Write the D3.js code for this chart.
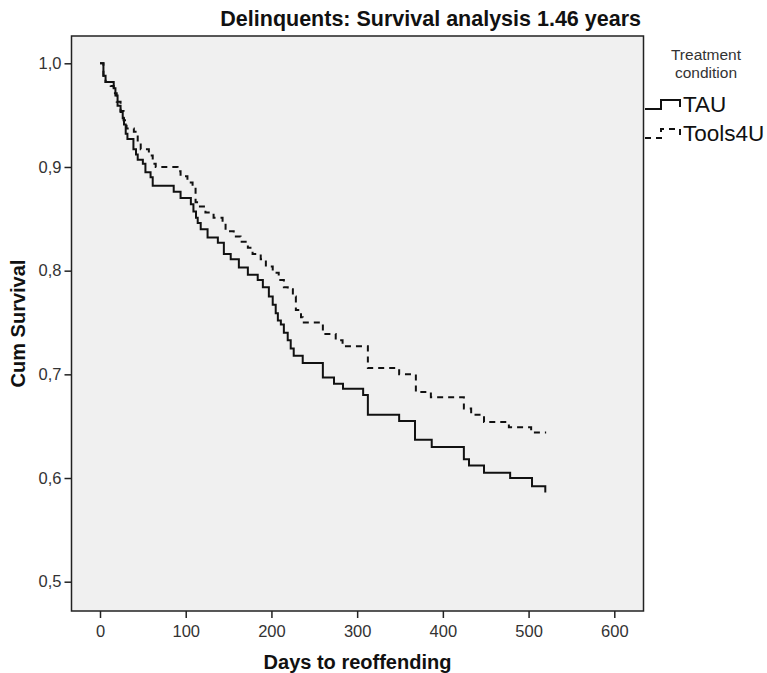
<!DOCTYPE html>
<html>
<head>
<meta charset="utf-8">
<script src="https://cdn.jsdelivr.net/npm/d3@7"></script>
<style>
  html, body { margin: 0; padding: 0; background: #ffffff; }
  svg { display: block; }
  text { font-family: "Liberation Sans", Arial, sans-serif; }
</style>
</head>
<body>
<svg id="chart" width="767" height="673"></svg>
<script>
// ---- Data ----
const chartTitle = "Delinquents: Survival analysis 1.46 years";
const xLabel = "Days to reoffending";
const yLabel = "Cum Survival";
const legendTitle = ["Treatment", "condition"];
const seriesNames = ["TAU", "Tools4U"];

const tauDays = [0, 4, 6.5, 16, 18, 20.5, 24, 26.5, 28, 30, 32, 39, 42, 44, 50, 53, 59, 61.5, 86, 94, 106, 109, 112, 114, 117.5, 125.5, 137.5, 144.5, 152.5, 162, 172.5, 184, 190, 197, 201.5, 205, 207.5, 211, 214.5, 219, 222.5, 226, 236.5, 260, 273, 283.5, 307, 312.5, 349, 367.5, 387, 424.5, 430.5, 448, 478.5, 504, 519.5];
const tauSurv = [1.000, 0.988, 0.982, 0.976, 0.969, 0.959, 0.953, 0.947, 0.941, 0.932, 0.927, 0.917, 0.912, 0.907, 0.903, 0.895, 0.890, 0.882, 0.876, 0.870, 0.864, 0.857, 0.851, 0.846, 0.840, 0.832, 0.827, 0.816, 0.811, 0.803, 0.796, 0.791, 0.784, 0.775, 0.767, 0.759, 0.752, 0.748, 0.740, 0.733, 0.725, 0.718, 0.711, 0.697, 0.691, 0.686, 0.680, 0.661, 0.655, 0.637, 0.630, 0.618, 0.612, 0.605, 0.600, 0.592, 0.586];

const toolsDays = [0, 4, 6.5, 12.5, 16, 19.5, 24, 27.5, 31, 39.5, 44, 47.5, 57, 61.5, 65, 90.5, 94, 102, 108, 111.5, 115, 123, 132.5, 143, 146.5, 156, 164, 172.5, 178, 187.5, 193.5, 201.5, 208.5, 214.5, 219, 225, 228.5, 234.5, 236.5, 260, 275, 283, 312.5, 349, 368.5, 386, 424.5, 433, 448, 477, 503, 520.5];
const toolsSurv = [1.000, 0.988, 0.982, 0.978, 0.971, 0.963, 0.954, 0.945, 0.937, 0.934, 0.924, 0.917, 0.911, 0.903, 0.900, 0.896, 0.891, 0.885, 0.881, 0.866, 0.862, 0.856, 0.851, 0.847, 0.838, 0.833, 0.828, 0.822, 0.816, 0.811, 0.804, 0.798, 0.791, 0.784, 0.782, 0.775, 0.762, 0.755, 0.750, 0.739, 0.733, 0.727, 0.706, 0.700, 0.683, 0.678, 0.667, 0.661, 0.654, 0.649, 0.644, 0.644];

const xTicks = [0, 100, 200, 300, 400, 500, 600];
const yTicks = [0.5, 0.6, 0.7, 0.8, 0.9, 1.0];

// ---- Layout ----
const frame = { left: 71.5, top: 36, right: 643.5, bottom: 611 };
const svg = d3.select("#chart");

const x = d3.scaleLinear().domain([0, 600]).range([100, 614.3]);
const y = d3.scaleLinear().domain([0.5, 1.0]).range([581.7, 63.3]);

// plot background
svg.append("rect")
  .attr("x", frame.left).attr("y", frame.top)
  .attr("width", frame.right - frame.left)
  .attr("height", frame.bottom - frame.top)
  .attr("fill", "#f0f0f0");

// Axes
const fmt = d => d3.format(".1f")(d).replace(".", ",");
const yAxis = svg.append("g")
  .attr("transform", `translate(${frame.left},0)`)
  .call(d3.axisLeft(y).tickValues(yTicks).tickFormat(fmt).tickSize(7).tickSizeOuter(0).tickPadding(3));
const xAxis = svg.append("g")
  .attr("transform", `translate(0,${frame.bottom})`)
  .call(d3.axisBottom(x).tickValues(xTicks).tickFormat(d3.format("d")).tickSize(7).tickSizeOuter(0).tickPadding(7));
[yAxis, xAxis].forEach(g => {
  g.select(".domain").remove();
  g.selectAll(".tick line").attr("stroke", "#222").attr("stroke-width", 1.5);
  g.selectAll(".tick text").attr("fill", "#333").style("font-size", "16.5px")
    .style("font-family", "'Liberation Sans', Arial, sans-serif");
});

// frame
svg.append("rect")
  .attr("x", frame.left).attr("y", frame.top)
  .attr("width", frame.right - frame.left)
  .attr("height", frame.bottom - frame.top)
  .attr("fill", "none").attr("stroke", "#222").attr("stroke-width", 1.5);

// Lines
const line = d3.line().curve(d3.curveStepAfter).x(d => x(d[0])).y(d => y(d[1]));
const tauData = tauDays.map((d, i) => [d, tauSurv[i]]);
const toolsData = toolsDays.map((d, i) => [d, toolsSurv[i]]);

svg.append("path").datum(toolsData)
  .attr("d", line).attr("fill", "none")
  .attr("stroke", "#111").attr("stroke-width", 2)
  .attr("stroke-dasharray", "6,5");
svg.append("path").datum(tauData)
  .attr("d", line).attr("fill", "none")
  .attr("stroke", "#111").attr("stroke-width", 2);

// Title
svg.append("text")
  .attr("x", 641).attr("y", 26)
  .attr("text-anchor", "end")
  .style("font-size", "21.5px").style("font-weight", "bold")
  .attr("fill", "#111")
  .text(chartTitle);

// Axis labels
svg.append("text")
  .attr("x", (frame.left + frame.right) / 2).attr("y", 669)
  .attr("text-anchor", "middle")
  .style("font-size", "20px").style("font-weight", "bold").attr("fill", "#111")
  .text(xLabel);
svg.append("text")
  .attr("transform", `translate(25,${(frame.top + frame.bottom) / 2}) rotate(-90)`)
  .attr("text-anchor", "middle")
  .style("font-size", "20px").style("font-weight", "bold").attr("fill", "#111")
  .text(yLabel);

// Legend
const lg = svg.append("g");
legendTitle.forEach((t, i) => {
  lg.append("text")
    .attr("x", 706).attr("y", 60 + i * 18)
    .attr("text-anchor", "middle")
    .style("font-size", "15.5px").attr("fill", "#333")
    .text(t);
});
const legendY = [104, 133];
const symPath = cy => `M645,${cy + 5}H661V${cy - 4}H680V${cy + 3}`;
seriesNames.forEach((name, i) => {
  lg.append("path")
    .attr("d", symPath(legendY[i]))
    .attr("fill", "none").attr("stroke", "#111").attr("stroke-width", 2)
    .attr("stroke-dasharray", i === 1 ? "6,5" : null);
  lg.append("text")
    .attr("x", 683).attr("y", legendY[i] + 8)
    .style("font-size", "22.5px").attr("fill", "#111")
    .text(name);
});
</script>
</body>
</html>
